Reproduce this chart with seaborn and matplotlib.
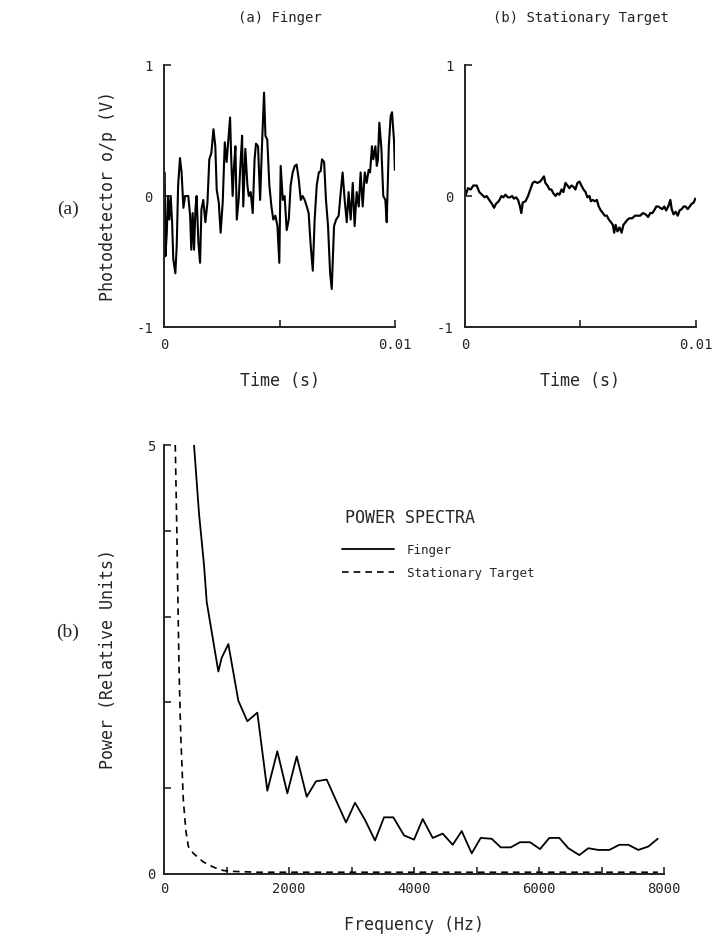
import numpy as np
import pandas as pd
import matplotlib
matplotlib.use("Agg")
import matplotlib.pyplot as plt
import seaborn as sns

# ---- data ----
# (a) finger, photodetector output vs time
finger_t_ms = [0.03, 0.06, 0.12, 0.17, 0.23, 0.29, 0.35, 0.40, 0.49, 0.55, 0.61, 0.69, 0.76, 0.84,
               0.91, 1.05, 1.13, 1.18, 1.24, 1.30, 1.36, 1.41, 1.49, 1.56, 1.62, 1.70, 1.79, 1.88,
               1.96, 2.05, 2.14, 2.22, 2.28, 2.37, 2.45, 2.54, 2.63, 2.71, 2.80, 2.86, 2.91, 2.97,
               3.03, 3.09, 3.15, 3.23, 3.32, 3.38, 3.43, 3.52, 3.61, 3.67, 3.75, 3.84, 3.92, 3.98,
               4.07, 4.16, 4.24, 4.33, 4.39, 4.47, 4.56, 4.65, 4.73, 4.82, 4.91, 4.99, 5.05, 5.14,
               5.22, 5.31, 5.40, 5.48, 5.57, 5.66, 5.74, 5.83, 5.92, 6.00, 6.09, 6.18, 6.26, 6.35,
               6.44, 6.52, 6.61, 6.70, 6.78, 6.84, 6.93, 7.01, 7.10, 7.19, 7.26, 7.36, 7.45, 7.56,
               7.65, 7.73, 7.82, 7.91, 7.99, 8.08, 8.17, 8.25, 8.34, 8.43, 8.51, 8.60, 8.69, 8.77,
               8.86, 8.92, 9.00, 9.06, 9.15, 9.21, 9.26, 9.32, 9.41, 9.49, 9.58, 9.64, 9.73, 9.81,
               9.87, 9.96, 9.99]
finger_v = [0.18, -0.46, -0.28, 0.00, -0.18, 0.00, -0.20, -0.48, -0.59, -0.38, 0.08, 0.29, 0.18, -0.09,
            0.00, 0.00, -0.15, -0.41, -0.13, -0.41, -0.10, 0.00, -0.36, -0.51, -0.10, -0.03, -0.20, -0.05,
            0.28, 0.33, 0.51, 0.38, 0.05, -0.05, -0.28, -0.05, 0.41, 0.26, 0.46, 0.60, 0.28, 0.00,
            0.23, 0.38, -0.18, -0.03, 0.28, 0.46, -0.08, 0.36, 0.08, 0.00, 0.03, -0.13, 0.28, 0.40,
            0.38, -0.03, 0.38, 0.79, 0.46, 0.43, 0.08, -0.08, -0.18, -0.15, -0.23, -0.51, 0.23, -0.03,
            0.00, -0.26, -0.18, 0.08, 0.18, 0.23, 0.24, 0.13, -0.03, 0.00, -0.03, -0.08, -0.13, -0.38,
            -0.57, -0.18, 0.08, 0.18, 0.19, 0.28, 0.26, -0.03, -0.23, -0.59, -0.71, -0.23, -0.18, -0.15,
            0.03, 0.18, -0.03, -0.20, 0.03, -0.18, 0.10, -0.23, 0.03, -0.08, 0.18, -0.08, 0.18, 0.10,
            0.20, 0.18, 0.38, 0.28, 0.38, 0.23, 0.28, 0.56, 0.36, 0.00, -0.03, -0.20, 0.38, 0.61,
            0.64, 0.41, 0.20]

# (b) stationary target
target_t_ms = [0.04, 0.13, 0.25, 0.36, 0.51, 0.62, 0.74, 0.85, 0.94, 1.05, 1.17, 1.26, 1.34, 1.46,
               1.58, 1.66, 1.75, 1.86, 1.95, 2.04, 2.12, 2.21, 2.30, 2.38, 2.44, 2.50, 2.62, 2.73,
               2.85, 2.93, 3.02, 3.14, 3.25, 3.34, 3.42, 3.48, 3.57, 3.66, 3.74, 3.83, 3.92, 4.00,
               4.09, 4.18, 4.26, 4.35, 4.44, 4.52, 4.61, 4.70, 4.78, 4.87, 4.96, 5.04, 5.13, 5.22,
               5.30, 5.39, 5.45, 5.53, 5.62, 5.71, 5.79, 5.88, 5.97, 6.05, 6.14, 6.23, 6.32, 6.40,
               6.46, 6.52, 6.60, 6.69, 6.78, 6.86, 6.95, 7.04, 7.12, 7.24, 7.36, 7.47, 7.59, 7.70,
               7.82, 7.93, 8.02, 8.11, 8.19, 8.28, 8.37, 8.45, 8.54, 8.63, 8.71, 8.80, 8.89, 8.95,
               9.03, 9.12, 9.21, 9.29, 9.38, 9.47, 9.55, 9.64, 9.73, 9.81, 9.90, 9.97]
target_v = [0.01, 0.06, 0.05, 0.08, 0.08, 0.03, 0.01, -0.01, 0.00, -0.03, -0.06, -0.09, -0.06, -0.04,
            0.00, -0.01, 0.01, -0.01, -0.01, 0.00, -0.02, -0.01, -0.03, -0.08, -0.13, -0.05, -0.04, 0.00,
            0.06, 0.10, 0.11, 0.10, 0.11, 0.13, 0.15, 0.10, 0.08, 0.05, 0.05, 0.02, 0.00, 0.02,
            0.01, 0.05, 0.03, 0.10, 0.08, 0.06, 0.08, 0.07, 0.05, 0.10, 0.11, 0.08, 0.05, 0.03,
            -0.01, 0.00, -0.04, -0.03, -0.04, -0.03, -0.08, -0.11, -0.13, -0.15, -0.15, -0.18, -0.20, -0.22,
            -0.28, -0.22, -0.27, -0.24, -0.28, -0.22, -0.20, -0.18, -0.17, -0.17, -0.15, -0.15, -0.15, -0.13,
            -0.14, -0.16, -0.13, -0.13, -0.11, -0.08, -0.08, -0.09, -0.10, -0.08, -0.11, -0.08, -0.03, -0.10,
            -0.14, -0.12, -0.15, -0.11, -0.10, -0.08, -0.08, -0.10, -0.08, -0.06, -0.05, -0.02]

# power spectra
finger_freq = [480, 560, 640, 683, 736, 869, 923, 1029, 1189, 1333, 1493, 1653, 1813, 1973, 2123,
               2283, 2432, 2603, 2763, 2912, 3056, 3216, 3376, 3520, 3669, 3840, 4000, 4139, 4299,
               4459, 4619, 4763, 4923, 5067, 5243, 5387, 5547, 5696, 5856, 6016, 6165, 6325, 6469,
               6645, 6789, 6949, 7125, 7285, 7429, 7589, 7749, 7899]
finger_pow = [5.0, 4.2, 3.6, 3.17, 2.94, 2.36, 2.52, 2.68, 2.02, 1.78, 1.88, 0.97, 1.43, 0.94, 1.37,
              0.90, 1.08, 1.10, 0.84, 0.60, 0.83, 0.63, 0.39, 0.66, 0.66, 0.45, 0.40, 0.64, 0.42,
              0.47, 0.34, 0.50, 0.24, 0.42, 0.41, 0.31, 0.31, 0.37, 0.37, 0.29, 0.42, 0.42, 0.30,
              0.22, 0.30, 0.28, 0.28, 0.34, 0.34, 0.28, 0.32, 0.41]
target_freq = [180, 205, 222, 240, 267, 309, 350, 389, 469, 629, 789, 949, 1100, 1500, 2000,
               3000, 4000, 5000, 6000, 7000, 7900]
target_pow = [5.0, 4.0, 3.2, 2.4, 1.63, 0.86, 0.5, 0.32, 0.24, 0.14, 0.08, 0.04, 0.03, 0.02, 0.02,
              0.02, 0.02, 0.02, 0.02, 0.02, 0.02]

sns.set_theme(style="ticks")
plt.rcParams['font.family'] = ['DejaVu Sans Mono', 'DejaVu Sans']
plt.rcParams['axes.linewidth'] = 1.4
plt.rcParams['xtick.direction'] = 'in'
plt.rcParams['ytick.direction'] = 'in'

fig = plt.figure(figsize=(7.15, 9.44), dpi=100)
ax1 = fig.add_axes([0.2294, 0.6536, 0.3231, 0.2775])
ax2 = fig.add_axes([0.6503, 0.6536, 0.3231, 0.2775])
ax3 = fig.add_axes([0.2294, 0.0742, 0.6993, 0.4544])

df1 = pd.DataFrame({"t": np.array(finger_t_ms) / 1000, "v": finger_v})
df2 = pd.DataFrame({"t": np.array(target_t_ms) / 1000, "v": target_v})
sns.lineplot(data=df1, x="t", y="v", ax=ax1, color="black", lw=1.5)
sns.lineplot(data=df2, x="t", y="v", ax=ax2, color="black", lw=1.6)

for ax, title in [(ax1, "(a) Finger"), (ax2, "(b) Stationary Target")]:
    ax.set_xlim(0, 0.01)
    ax.set_ylim(-1, 1)
    ax.set_xticks([0, 0.005, 0.01])
    ax.set_xticklabels(["0", "", "0.01"])
    ax.set_yticks([-1, 0, 1])
    ax.set_yticklabels(["-1", "0", "1"])
    ax.set_xlabel("Time (s)", fontsize=12, labelpad=14)
    ax.set_ylabel("")
    ax.set_title(title, fontsize=10, pad=31)
    ax.tick_params(labelsize=10, length=5, width=1.2, pad=8)
    sns.despine(ax=ax)
ax1.set_ylabel("Photodetector o/p (V)", fontsize=12, labelpad=14)

spec_f = pd.DataFrame({"f": finger_freq, "p": finger_pow})
spec_t = pd.DataFrame({"f": target_freq, "p": target_pow})
sns.lineplot(data=spec_f, x="f", y="p", ax=ax3, color="black", lw=1.3, label="Finger")
sns.lineplot(data=spec_t, x="f", y="p", ax=ax3, color="black", lw=1.2,
             linestyle=(0, (4, 3)), label="Stationary Target")
ax3.set_xlim(0, 8000)
ax3.set_ylim(0, 5)
ax3.set_xticks(range(0, 8001, 1000))
ax3.set_xticklabels(["0", "", "2000", "", "4000", "", "6000", "", "8000"])
ax3.set_yticks(range(0, 6))
ax3.set_yticklabels(["0", "", "", "", "", "5"])
ax3.tick_params(labelsize=10, length=5, width=1.2, pad=6)
ax3.set_xlabel("Frequency (Hz)", fontsize=12, labelpad=14)
ax3.set_ylabel("Power (Relative Units)", fontsize=12, labelpad=22)
sns.despine(ax=ax3)
ax3.text(0.492, 0.83, "POWER SPECTRA", transform=ax3.transAxes, ha="center", va="center", fontsize=12)
ax3.legend(loc="upper left", bbox_to_anchor=(0.355, 0.77), frameon=False, fontsize=9,
           handlelength=4.2, borderpad=0, borderaxespad=0, handletextpad=1.0, labelspacing=0.8)

fig.text(0.095, 0.778, "(a)", fontsize=14, family="Liberation Serif", ha="center", va="center")
fig.text(0.095, 0.33, "(b)", fontsize=14, family="Liberation Serif", ha="center", va="center")

fig.savefig("out.png", dpi=100, facecolor="white")
